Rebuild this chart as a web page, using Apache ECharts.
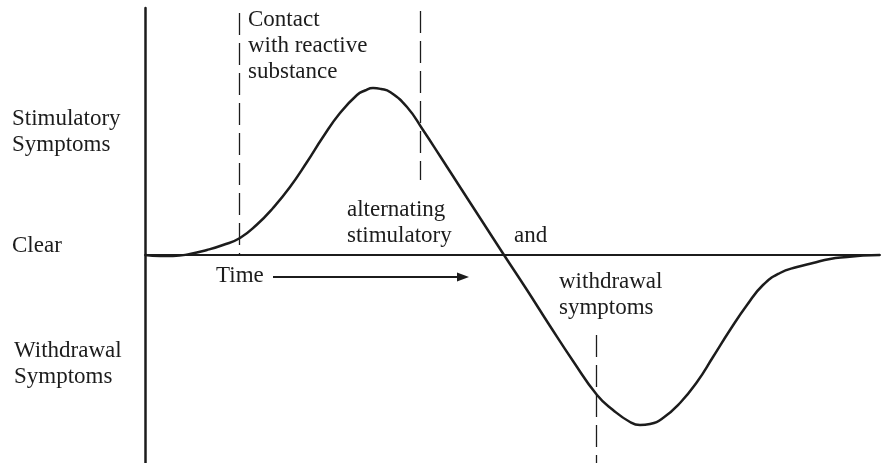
<!DOCTYPE html>
<html>
<head>
<meta charset="utf-8">
<script src="https://cdn.jsdelivr.net/npm/echarts@6/dist/echarts.min.js"></script>
<style>
  html, body { margin: 0; padding: 0; background: #fff; }
  #view { width: 881px; height: 463px; }
</style>
</head>
<body>
<div id="view"></div>
<script>
// response curve: time (arbitrary units) vs symptom level (+ stimulatory, - withdrawal)
let timeValues = [0, 3, 5.6, 9, 12.4, 15.6, 19, 22.4, 25.6, 29, 32.4, 35.6, 39, 42.4, 44, 45.6, 47.2, 49,
  52.4, 55.6, 59, 63, 67.4, 71.8, 76.4, 81, 85.6, 90.4, 93.6, 97, 99, 101, 103.6, 107, 110.4,
  113.6, 117, 120.4, 123.6, 127, 130.4, 133.6, 137, 140.4, 143.6, 147];
let levelValues = [0, -0.5, -0.5, 0.5, 2.5, 5, 8.5, 15.25, 23.5, 34, 46.5, 59, 71, 80, 82.25, 83.5, 83, 81.5,
  74, 62.5, 49.5, 34, 17, 0, -17.5, -35.5, -53, -70, -77.5, -83.5, -85, -84.5, -81.5, -74, -63.5,
  -51, -37.5, -25, -15, -9, -6, -4, -2, -1, -0.25, 0];

// dashed markers: [time, from level, to level]
let markerLines = [
  [18.9, 121, 0],
  [55.1, 122, 37.5],
  [90.3, -40, -104],
];
// "Time" arrow
let arrowFrom = [25.6, -11];
let arrowTo = [63.6, -11];

let levelLabels = ["Stimulatory\nSymptoms", "Clear", "Withdrawal\nSymptoms"];
let contactLabel = "Contact\nwith reactive\nsubstance";
let phaseLabel = ["alternating\nstimulatory", "and", "withdrawal\nsymptoms"];

let myChart = echarts.init(document.getElementById("view"));

let ink = "#1c1c1c";
let font = "23px 'Liberation Serif', 'Times New Roman', serif";

function textLines(str, x, y0) {
  return str.split("\n").map((s, i) => ({
    type: "text",
    x: x,
    y: y0 + i * 26,
    silent: true,
    style: { text: s, font: font, fill: ink, verticalAlign: "middle", align: "left" },
  }));
}

let seriesList = [
  {
    name: "response",
    type: "line",
    smooth: 0.5,
    symbol: "none",
    lineStyle: { color: ink, width: 2.5 },
    data: timeValues.map((t, i) => [t, levelValues[i]]),
    z: 5,
  },
];
markerLines.forEach((m) => {
  seriesList.push({
    type: "line",
    symbol: "none",
    lineStyle: { color: ink, width: 1.3, type: [22, 8] },
    data: [[m[0], m[1]], [m[0], m[2]]],
    z: 3,
  });
});
seriesList.push({
  type: "line",
  symbol: "none",
  lineStyle: { width: 0 },
  data: [],
  markLine: {
    silent: true,
    symbol: ["none", "triangle"],
    symbolSize: [9, 12],
    label: { show: false },
    lineStyle: { color: ink, width: 2, type: "solid" },
    data: [[{ coord: arrowFrom }, { coord: arrowTo }]],
  },
  z: 4,
});

let graphics = []
  .concat(textLines(levelLabels[0], 12, 119))
  .concat(textLines(levelLabels[1], 12, 246))
  .concat(textLines(levelLabels[2], 14, 351))
  .concat(textLines(contactLabel, 248, 20))
  .concat(textLines(phaseLabel[0], 347, 210))
  .concat(textLines(phaseLabel[1], 514, 236))
  .concat(textLines(phaseLabel[2], 559, 282))
  .concat(textLines("Time", 216, 276));

let option = {
  backgroundColor: "#ffffff",
  animation: false,
  grid: { left: 145, right: 1, top: 8, bottom: 0 },
  xAxis: {
    type: "value",
    min: 0,
    max: 147,
    axisLine: { onZero: true, lineStyle: { color: ink, width: 2 } },
    axisTick: { show: false },
    axisLabel: { show: false },
    splitLine: { show: false },
  },
  yAxis: {
    type: "value",
    min: -104,
    max: 123.5,
    axisLine: { show: true, lineStyle: { color: ink, width: 2.5 } },
    axisTick: { show: false },
    axisLabel: { show: false },
    splitLine: { show: false },
  },
  series: seriesList,
  graphic: graphics,
};
myChart.setOption(option);
</script>
</body>
</html>
